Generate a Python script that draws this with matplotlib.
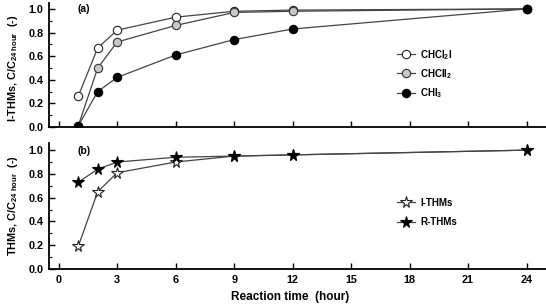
import matplotlib
matplotlib.use("Agg")
import matplotlib.pyplot as plt
from matplotlib.ticker import MultipleLocator

plt.rcParams['font.family'] = ['Liberation Sans', 'DejaVu Sans']
plt.rcParams['font.weight'] = 'bold'
plt.rcParams['mathtext.fontset'] = 'custom'
plt.rcParams['mathtext.rm'] = 'Liberation Sans:bold'
plt.rcParams['mathtext.it'] = 'Liberation Sans:bold'
plt.rcParams['mathtext.bf'] = 'Liberation Sans:bold'

time = [1, 2, 3, 6, 9, 12, 24]
chcl2i = [0.26, 0.67, 0.82, 0.93, 0.98, 0.99, 1.0]
chcli2 = [0.01, 0.50, 0.72, 0.86, 0.97, 0.98, 1.0]
chi3 = [0.01, 0.30, 0.42, 0.61, 0.74, 0.83, 1.0]
i_thms = [0.19, 0.65, 0.81, 0.90, 0.95, 0.96, 1.0]
r_thms = [0.73, 0.84, 0.90, 0.94, 0.95, 0.96, 1.0]
xticks = [0, 3, 6, 9, 12, 15, 18, 21, 24]
yticks = [0.0, 0.2, 0.4, 0.6, 0.8, 1.0]

fig = plt.figure(figsize=(5.46, 3.04), dpi=100)
ax1 = fig.add_axes([49/546, 1-127/304, 497/546, 124/304])
ax2 = fig.add_axes([49/546, 1-269/304, 497/546, 126/304])

lc = '#444444'
ms_c = 6
ax1.plot(time, chcl2i, '-o', color=lc, lw=0.9, mfc='white', mec='#222222', ms=ms_c, mew=0.8, label='CHCl$_2$I')
ax1.plot(time, chcli2, '-o', color=lc, lw=0.9, mfc='#c8c8c8', mec='#333333', ms=ms_c, mew=0.8, label='CHClI$_2$')
ax1.plot(time, chi3, '-o', color=lc, lw=0.9, mfc='black', mec='black', ms=ms_c, mew=0.8, label='CHI$_3$')

ax2.plot(time, i_thms, '-*', color=lc, lw=0.9, mfc='white', mec='#222222', ms=8.5, mew=0.8, label='I-THMs')
ax2.plot(time, r_thms, '-*', color=lc, lw=0.9, mfc='black', mec='black', ms=8.5, mew=0.8, label='R-THMs')

for ax, top in ((ax1, 1.05), (ax2, 1.06)):
    ax.set_xlim(-0.5, 25)
    ax.set_ylim(0, top)
    ax.set_xticks(xticks)
    ax.set_yticks(yticks)
    ax.yaxis.set_minor_locator(MultipleLocator(0.1))
    ax.spines['top'].set_visible(False)
    ax.spines['right'].set_visible(False)
    ax.spines['left'].set_linewidth(1.3)
    ax.spines['bottom'].set_linewidth(1.3)
    ax.tick_params(axis='both', which='major', direction='in', length=4, width=1, labelsize=7.8, pad=4)
    ax.tick_params(axis='y', which='minor', direction='in', length=2.5, width=0.8)
    ax.set_yticklabels(['%.1f' % v for v in yticks], fontweight='bold')

ax1.set_xticklabels([])
ax2.set_xticklabels([str(v) for v in xticks], fontweight='bold')

ax1.set_ylabel('I-THMs, C/C$_{24\\ hour}$  (-)', fontsize=7.8, fontweight='bold')
ax2.set_ylabel('THMs, C/C$_{24\\ hour}$  (-)', fontsize=7.8, fontweight='bold')
ax1.yaxis.set_label_coords(-0.058, 0.47)
ax2.yaxis.set_label_coords(-0.058, 0.5)

ax1.text(77/546, 1-4/304, '(a)', transform=fig.transFigure, fontsize=7.5, fontweight='bold', va='top')
ax2.text(78/546, 1-146/304, '(b)', transform=fig.transFigure, fontsize=7.5, fontweight='bold', va='top')

leg1 = ax1.legend(loc='upper left', bbox_to_anchor=(388/546, 1-39/304), bbox_transform=fig.transFigure,
                  frameon=False, fontsize=7, handlelength=1.9, labelspacing=0.55, handletextpad=0.5)
leg2 = ax2.legend(loc='upper left', bbox_to_anchor=(388/546, 1-189/304), bbox_transform=fig.transFigure,
                  frameon=False, fontsize=7, handlelength=1.9, labelspacing=0.95, handletextpad=0.5)
for leg in (leg1, leg2):
    for t in leg.get_texts():
        t.set_fontweight('bold')

fig.text(290/546, 1/304, 'Reaction time  (hour)', fontsize=8.5, fontweight='bold', ha='center', va='bottom')

fig.savefig('out.png', dpi=100)
